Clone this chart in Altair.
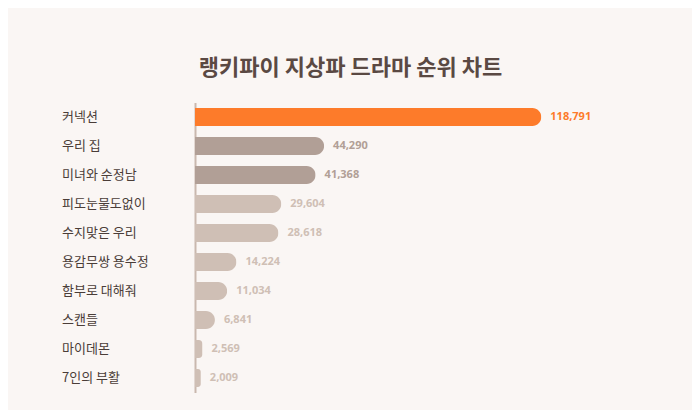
import altair as alt
import pandas as pd

titles = ["커넥션", "우리 집", "미녀와 순정남", "피도눈물도없이", "수지맞은 우리",
          "용감무쌍 용수정", "함부로 대해줘", "스캔들", "마이데몬", "7인의 부활"]
scores = [118791, 44290, 41368, 29604, 28618, 14224, 11034, 6841, 2569, 2009]
tiers = ["top", "mid", "mid", "low", "low", "low", "low", "low", "low", "low"]

df = pd.DataFrame({"title": titles, "score": scores, "tier": tiers})
df["label"] = df["score"].map(lambda v: f"{v:,}")

bar_colors = alt.Scale(domain=["top", "mid", "low"], range=["#fd7b2a", "#b19f96", "#cfbfb5"])
text_colors = alt.Scale(domain=["top", "mid", "low"], range=["#e9701f", "#9f8c82", "#c3b1a6"])

y_enc = alt.Y("title:N", sort=titles,
              scale=alt.Scale(paddingInner=0.38, paddingOuter=0.19),
              axis=alt.Axis(title=None, labels=False, ticks=False, grid=False,
                            domain=True, domainColor="#c9b8ae", domainWidth=2))
x_enc = alt.X("score:Q", scale=alt.Scale(domain=[0, 130000], nice=False),
              axis=None)

bars = alt.Chart(df).mark_bar(cornerRadiusEnd=9).encode(
    x=x_enc, y=y_enc,
    color=alt.Color("tier:N", scale=bar_colors, legend=None),
)

values = alt.Chart(df).mark_text(align="left", baseline="middle", dx=9,
                                 font="Open Sans", fontSize=11, fontWeight="bold").encode(
    x=x_enc, y=y_enc, text="label:N",
    color=alt.Color("tier:N", scale=text_colors, legend=None),
)

names = alt.Chart(df).mark_text(align="left", baseline="middle",
                                font="Noto Sans CJK KR", fontSize=13, color="#4a3d38").encode(
    x=alt.value(-133), y=y_enc, text="title:N",
)

chart = alt.layer(bars, values, names).properties(
    width=379, height=290,
    padding={"left": 187, "right": 118, "top": 94.5, "bottom": 17.5},
    autosize=alt.AutoSizeParams(type="none"),
    background="#faf6f4",
    title=alt.TitleParams("랭키파이 지상파 드라마 순위 차트", font="Noto Sans CJK KR",
                          fontSize=22, fontWeight="bold", color="#5a4943",
                          anchor="middle", dx=-34, offset=23),
).configure_view(stroke=None)

chart.save("out.html", embed_options={"renderer": "svg", "actions": False})
